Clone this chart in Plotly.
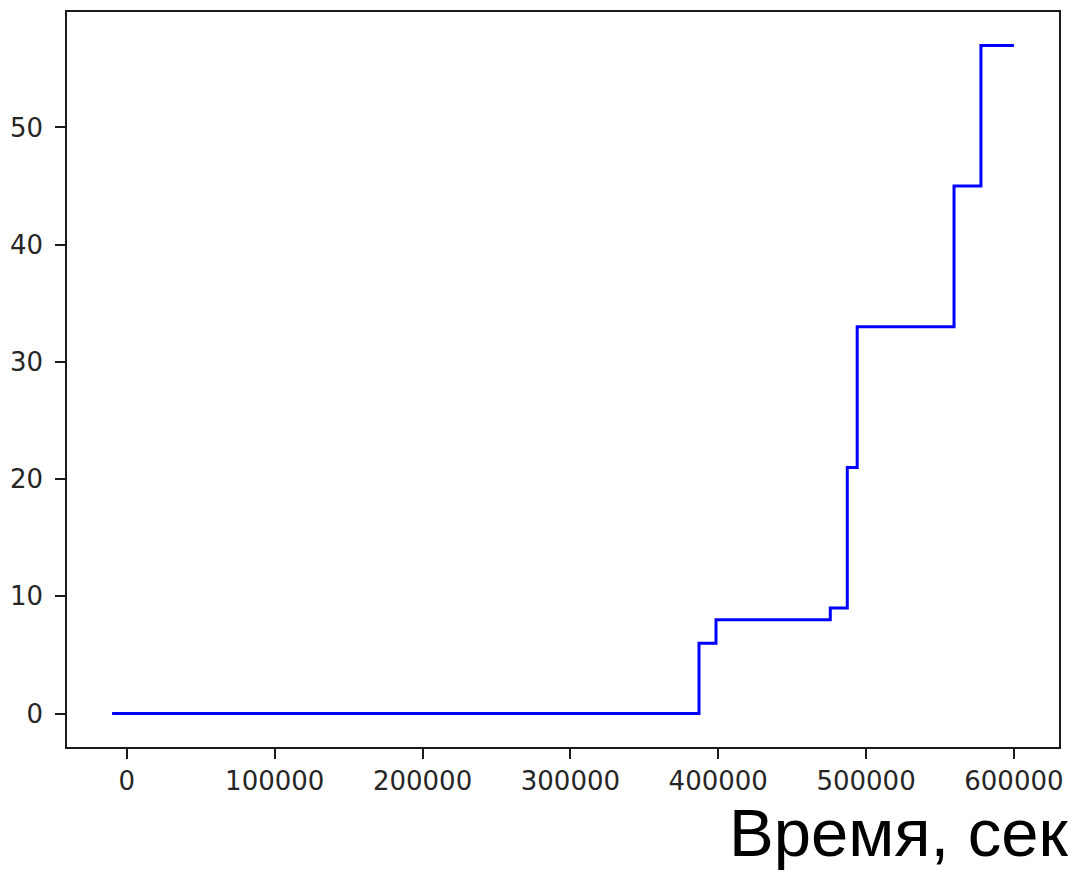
import plotly.graph_objects as go

# Step data: time (s) of each jump and the level reached
time_s = [-10000, 387000, 398500, 475800, 487300, 494000, 559500, 577700, 600000]
count = [0, 6, 8, 9, 21, 33, 45, 57, 57]

x_ticks = [0, 100000, 200000, 300000, 400000, 500000, 600000]
y_ticks = [0, 10, 20, 30, 40, 50]

fig = go.Figure()
fig.add_trace(go.Scatter(
    x=time_s, y=count, mode="lines",
    line=dict(color="#0000ff", width=3, shape="hv"),
    showlegend=False,
))

axis_common = dict(
    showgrid=False, zeroline=False,
    showline=True, linecolor="#1a1a1a", linewidth=1.5, mirror=True,
    ticks="outside", ticklen=10, tickwidth=1.5, tickcolor="#1a1a1a",
    tickfont=dict(family="DejaVu Sans", size=26, color="#262626"),
)

fig.update_layout(
    width=1086, height=870,
    margin=dict(l=67, r=27, t=10, b=123),
    paper_bgcolor="white", plot_bgcolor="white",
    xaxis=dict(range=[-40500, 630500], tickvals=x_ticks,
               ticktext=[str(v) for v in x_ticks], **axis_common),
    yaxis=dict(range=[-2.85, 59.85], tickvals=y_ticks,
               ticktext=[str(v) for v in y_ticks],
               ticklabelstandoff=7, **axis_common),
    annotations=[dict(
        text="Время, сек", xref="paper", yref="paper",
        x=1.012, y=-0.117, xanchor="right", yanchor="middle",
        showarrow=False,
        font=dict(family="Liberation Sans", size=67, color="black"),
    )],
)

fig.write_html("out.html")
